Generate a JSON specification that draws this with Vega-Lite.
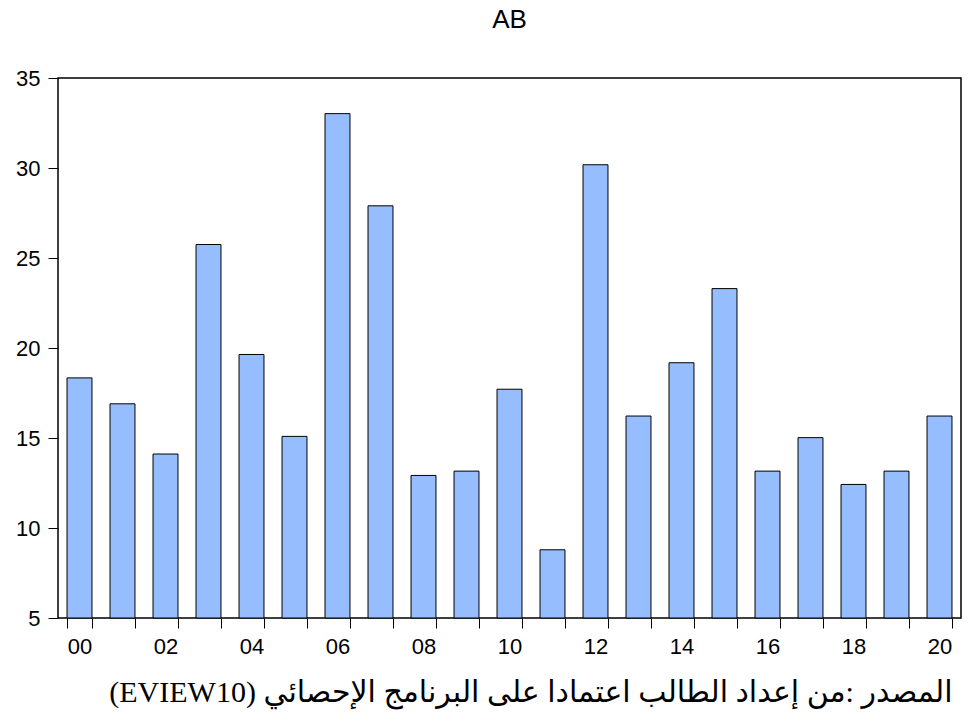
{
  "$schema": "https://vega.github.io/schema/vega-lite/v6.json",
  "autosize": {"type": "none"},
  "width": 903,
  "height": 540,
  "padding": {"left": 58, "top": 78, "right": 11, "bottom": 99},
  "background": "white",
  "title": {
    "text": "AB",
    "font": "Liberation Sans",
    "fontSize": 26,
    "fontWeight": "normal",
    "color": "black",
    "anchor": "middle",
    "baseline": "alphabetic",
    "offset": 13
  },
  "data": {
    "values": [
      {"yr": "00", "AB": 18.34},
      {"yr": "01", "AB": 16.9},
      {"yr": "02", "AB": 14.11},
      {"yr": "03", "AB": 25.75},
      {"yr": "04", "AB": 19.64},
      {"yr": "05", "AB": 15.09},
      {"yr": "06", "AB": 33.02},
      {"yr": "07", "AB": 27.9},
      {"yr": "08", "AB": 12.92},
      {"yr": "09", "AB": 13.16},
      {"yr": "10", "AB": 17.71},
      {"yr": "11", "AB": 8.79},
      {"yr": "12", "AB": 30.18},
      {"yr": "13", "AB": 16.22},
      {"yr": "14", "AB": 19.18},
      {"yr": "15", "AB": 23.3},
      {"yr": "16", "AB": 13.16},
      {"yr": "17", "AB": 15.02},
      {"yr": "18", "AB": 12.42},
      {"yr": "19", "AB": 13.16},
      {"yr": "20", "AB": 16.22}
    ]
  },
  "mark": {"type": "bar", "fill": "#96BEFF", "stroke": "black", "strokeWidth": 1},
  "encoding": {
    "x": {
      "field": "yr",
      "type": "ordinal",
      "sort": null,
      "scale": {"paddingInner": 0.42, "paddingOuter": 0.21},
      "axis": {
        "title": "(EVIEW10) المصدر :من إعداد الطالب اعتمادا على البرنامج الإحصائي",
        "titleFont": "Liberation Serif, DejaVu Sans",
        "titleFontSize": 30,
        "titleFontWeight": "normal",
        "titleColor": "black",
        "titleAnchor": "end",
        "titleAlign": "right",
        "titleBaseline": "alphabetic",
        "titleX": 894,
        "titleY": 83,
        "labelAngle": 0,
        "labelExpr": "toNumber(datum.value) % 2 == 0 ? datum.value : ''",
        "labelFont": "Liberation Sans",
        "labelFontSize": 22,
        "labelColor": "black",
        "labelPadding": 8,
        "tickBand": "extent",
        "tickSize": 10,
        "tickColor": "black",
        "domain": false,
        "grid": false
      }
    },
    "y": {
      "field": "AB",
      "type": "quantitative",
      "scale": {"domain": [5, 35], "zero": false, "nice": false},
      "axis": {
        "title": null,
        "values": [5, 10, 15, 20, 25, 30, 35],
        "labelFont": "Liberation Sans",
        "labelFontSize": 22,
        "labelColor": "black",
        "labelPadding": 8,
        "tickSize": 10,
        "tickColor": "black",
        "domain": false,
        "grid": false
      }
    },
    "y2": {"datum": 5}
  },
  "config": {
    "view": {"stroke": "black", "strokeWidth": 1.5}
  }
}
